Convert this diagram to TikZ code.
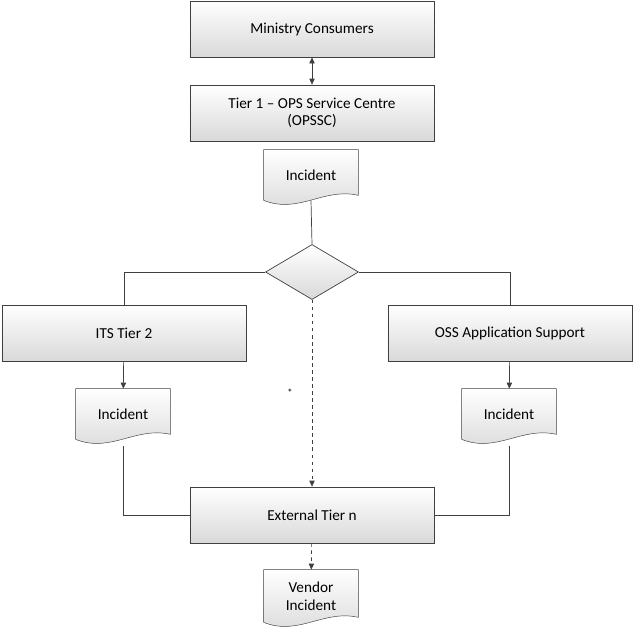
\documentclass[tikz,border=0pt]{standalone}
\usepackage{fontspec}
\setmainfont{Carlito}
\usetikzlibrary{arrows.meta, shapes.geometric, backgrounds}
\definecolor{lineclr}{HTML}{404040}
\definecolor{boxbot}{HTML}{D9D9D9}

\newcommand{\docshape}[1]{%
  \draw[docline] (#1.south west) .. controls +(35,14) and +(-35,-8) ..
    ([yshift=0.15cm]#1.south east) -- (#1.north east) -- (#1.north west) -- cycle;}

\begin{document}
\begin{tikzpicture}[x=0.03cm, y=-0.03cm, >={Triangle[length=1.8mm,width=1.6mm]},
			line width=0.6pt, font=\fontsize{13}{15}\selectfont,
			box/.style={rectangle, draw=lineclr, top color=white, bottom color=boxbot,
				minimum width=7.32cm, minimum height=1.68cm, align=center},
			doc/.style={rectangle, minimum width=2.82cm, align=center},
			docline/.style={draw=lineclr, top color=white, bottom color=boxbot},
			link/.style={draw=lineclr}]
			
			\useasboundingbox (0,0) rectangle (635,637);
			
			% Boxes
			\node[box] (mc) at (312,29) {Ministry Consumers};
			\node[box] (t1) at (312,113) {Tier 1 -- OPS Service Centre\\(OPSSC)};
			\node[box] (its) at (124,333) {ITS Tier 2};
			\node[box] (oss) at (510,333) {OSS Application Support};
			\node[box] (ext) at (312,515) {External Tier n};
			
			% Documents
			\node[doc, minimum height=1.5cm] (inc) at (311,175) {Incident};
			\node[doc, minimum height=1.5cm] (li) at (123,414) {Incident};
			\node[doc, minimum height=1.5cm] (ri) at (509,414) {Incident};
			\node[doc, minimum height=1.56cm] (vi) at (311,596) {Vendor\\Incident};
			\begin{scope}[on background layer]
				\docshape{inc} \docshape{li} \docshape{ri} \docshape{vi}
			\end{scope}
			
			% Decision
			\node[diamond, draw=lineclr, top color=white, bottom color=boxbot,
				minimum width=2.79cm, minimum height=1.65cm, inner sep=0pt] (dec) at (312,272) {};
			
			% Connectors
			\draw[link, <->] (mc) -- (t1);
			\draw[link] (inc.south) -- (dec.north);
			\draw[link] (dec.west) -| (its.north);
			\draw[link] (dec.east) -| (oss.north);
			\draw[link, ->] (its) -- (li);
			\draw[link, ->] (oss) -- (ri);
			\draw[link] ([yshift=-0.2cm]li.south) |- (ext.west);
			\draw[link] ([yshift=-0.2cm]ri.south) |- (ext.east);
			\draw[link, dashed, ->] (dec.south) -- node[pos=0.5, left=0.45cm, font=\small]{*} (ext.north);
			\draw[link, dashed, ->] (ext) -- (vi);
		\end{tikzpicture}
\end{document}
